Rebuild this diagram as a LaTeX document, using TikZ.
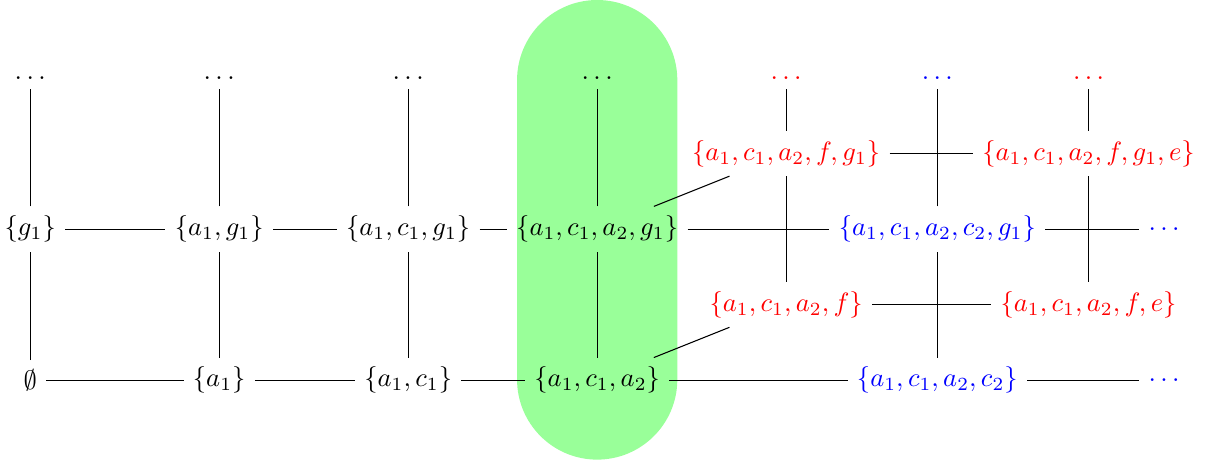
\documentclass[tikz,border=0pt]{standalone}
\usepackage{amsmath, amssymb}
\usepackage{xcolor}
\usepackage{tikz}
\usetikzlibrary{positioning}

\begin{document}
\begin{tikzpicture}[node distance=2cm and 2.5cm,on grid,
       redset/.style={text=red},blueset/.style={text=blue}]
       \useasboundingbox (-0.4,-1.11) rectangle (15.62,5.03);
       \fill[green!40,rounded corners=1.06cm] (6.44,-1.05) rectangle (8.56,5.03);

       \node (e) {$\emptyset$};
       \node (a) [right=of e] {$\{a_1\}$};
       \node (ac) [right=of a] {$\{a_1,c_1\}$};
       \node (aca) [right=of ac] {$\{a_1,c_1,a_2\}$};
       \node[blueset] (acac) [right=4.5cm of aca] {$\{a_1,c_1,a_2,c_2\}$};
       \node[blueset] (bdots0) [right=3cm of acac] {$\ldots$};

       \node (g) [above=of e] {$\{g_1\}$};
       \node (ag) [above=of a] {$\{a_1,g_1\}$};
       \node (acg) [above=of ac] {$\{a_1,c_1,g_1\}$};
       \node (acag) [above=of aca] {$\{a_1,c_1,a_2,g_1\}$};
       \node[blueset] (acacg) [above=of acac] {$\{a_1,c_1,a_2,c_2,g_1\}$};
       \node[blueset] (bdots1) [above=of bdots0] {$\ldots$};

       \node (dots0) [above=of g] {$\ldots$};
       \node (dots1) [above=of ag] {$\ldots$};
       \node (dots2) [above=of acg] {$\ldots$};
       \node (dots3) [above=of acag] {$\ldots$};
       \node[blueset] (bdots2) [above=of acacg] {$\ldots$};

       \node[redset] (acaf) [above right=1cm and 2.5cm of aca] {$\{a_1,c_1,a_2,f\}$};
       \node[redset] (acafg) [above=of acaf] {$\{a_1,c_1,a_2,f,g_1\}$};
       \node[redset] (rdots0) [above=1cm of acafg] {$\ldots$};
       \node[redset] (acafe) [right=4cm of acaf] {$\{a_1,c_1,a_2,f,e\}$};
       \node[redset] (acafge) [above=of acafe] {$\{a_1,c_1,a_2,f,g_1,e\}$};
       \node[redset] (rdots1) [above=1cm of acafge] {$\ldots$};

       \path
       (e) edge (a) (a) edge (ac) (ac) edge (aca) (aca) edge (acac) (acac) edge (bdots0)
       (g) edge (ag) (ag) edge (acg) (acg) edge (acag) (acag) edge (acacg) (acacg) edge (bdots1)
       (e) edge (g) (g) edge (dots0)
       (a) edge (ag) (ag) edge (dots1)
       (ac) edge (acg) (acg) edge (dots2)
       (aca) edge (acag) (acag) edge (dots3)
       (acac) edge (acacg) (acacg) edge (bdots2)
       (acaf) edge (acafg) (acafg) edge (rdots0)
       (acafe) edge (acafge) (acafge) edge (rdots1)
       (acaf) edge (acafe) (acafg) edge (acafge)
       (aca) edge (acaf) (acag) edge (acafg);
    \end{tikzpicture}
\end{document}
